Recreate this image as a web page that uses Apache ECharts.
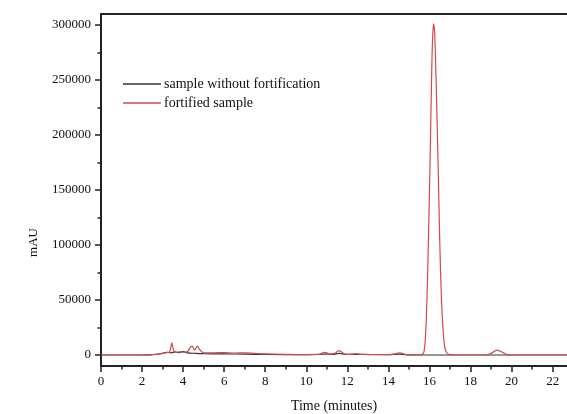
<!DOCTYPE html>
<html>
<head>
<meta charset="utf-8">
<script src="https://cdn.jsdelivr.net/npm/echarts@6/dist/echarts.min.js"></script>
<style>
  html, body { margin: 0; padding: 0; background: #fff; }
  #main { width: 567px; height: 414px; }
</style>
</head>
<body>
<div id="main"></div>
<script>
// retention time (min) / absorbance (mAU)
const seriesNames = ['sample without fortification', 'fortified sample']

const blankData = [
  [0, 0], [1, 0], [2, 0], [2.5, 300], [2.8, 900], [3.0, 1500], [3.2, 2500], [3.4, 2000],
  [3.6, 2800], [3.8, 2200], [4.0, 3200], [4.2, 2000], [4.6, 1500], [5.0, 1200], [6.0, 1000],
  [7.0, 800], [8.0, 500], [10.0, 300], [10.8, 700], [11.0, 1000], [11.3, 600], [11.6, 1500],
  [11.9, 600], [12.5, 500], [14.0, 400], [14.5, 800], [14.9, 200], [15.5, 0], [17, 0],
  [19, 0], [20, 0], [22.7, 0]
]

const fortifiedData = [
  [0, 0], [1, 0], [2, 0], [2.4, 200], [2.8, 800], [3.0, 1500], [3.2, 2200], [3.35, 3000],
  [3.45, 11000], [3.55, 3500], [3.7, 2500], [3.85, 3000], [4.0, 2500], [4.2, 2800],
  [4.35, 7000], [4.45, 8000], [4.55, 4500], [4.7, 8000], [4.8, 5000], [5.0, 2000],
  [5.5, 2000], [6.0, 2200], [6.5, 1800], [7.0, 2000], [7.5, 1500], [8.0, 1000], [9.0, 600],
  [10.0, 400], [10.6, 500], [10.9, 2400], [11.2, 800], [11.4, 1500], [11.6, 4000],
  [11.85, 1000], [12.1, 500], [12.4, 1200], [12.7, 500], [13.5, 300], [14.2, 500],
  [14.55, 2000], [14.9, 300], [15.5, 100], [15.6, 300], [15.7, 1200], [15.75, 5000],
  [15.8, 15000], [15.85, 35000], [15.9, 65000], [15.95, 105000], [16.0, 148000],
  [16.05, 196000], [16.1, 248000], [16.15, 287000], [16.2, 301000], [16.25, 294000],
  [16.3, 266000], [16.35, 230000], [16.4, 190000], [16.45, 148000], [16.5, 105000],
  [16.55, 70000], [16.6, 44000], [16.65, 26000], [16.7, 14000], [16.75, 7000],
  [16.8, 3500], [16.9, 1000], [17.0, 300], [17.2, 0], [18.8, 0], [19.0, 1500],
  [19.3, 4500], [19.6, 2000], [19.8, 300], [20.0, 0], [22.7, 0]
]

const xMajor = [0, 2, 4, 6, 8, 10, 12, 14, 16, 18, 20, 22]
const xMinor = [1, 3, 5, 7, 9, 11, 13, 15, 17, 19, 21]
const yMajor = [0, 50000, 100000, 150000, 200000, 250000, 300000]
const yMinor = [25000, 75000, 125000, 175000, 225000, 275000]

const FONT = '"Liberation Serif", "DejaVu Serif", serif'
const AXIS_COLOR = '#222'

let chart = echarts.init(document.getElementById('main'), null, { renderer: 'canvas' })

let option = {
  backgroundColor: '#fff',
  animation: false,
  textStyle: { fontFamily: FONT },
  grid: { left: 101, top: 14, right: 0, bottom: 48, outerBoundsMode: 'none' },
  graphic: [
    {
      type: 'text',
      left: 27,
      top: 228,
      rotation: Math.PI / 2,
      style: { text: 'mAU', font: '13px ' + FONT, fill: '#111' }
    }
  ],
  legend: {
    data: seriesNames,
    orient: 'vertical',
    left: 118,
    top: 72,
    itemWidth: 38,
    itemHeight: 1.5,
    itemGap: 5,
    icon: 'rect',
    textStyle: { fontFamily: FONT, fontSize: 14, color: '#111', padding: [0, 0, 0, -2] }
  },
  xAxis: [
    {
      type: 'value', min: 0, max: 22.7, position: 'bottom',
      name: 'Time (minutes)', nameLocation: 'middle', nameGap: 33,
      nameTextStyle: { fontFamily: FONT, fontSize: 14, color: '#111' },
      axisLine: { show: true, onZero: false, lineStyle: { color: AXIS_COLOR, width: 2 } },
      axisTick: { show: true, customValues: xMajor, length: 6, lineStyle: { color: AXIS_COLOR, width: 1.5 } },
      axisLabel: { customValues: xMajor, fontFamily: FONT, fontSize: 13, color: '#111', margin: 9 },
      splitLine: { show: false }
    },
    {
      type: 'value', min: 0, max: 22.7, position: 'bottom',
      axisLine: { show: false, onZero: false },
      axisTick: { show: true, customValues: xMinor, length: 3.5, lineStyle: { color: AXIS_COLOR, width: 1.5 } },
      axisLabel: { show: false },
      splitLine: { show: false }
    },
    {
      type: 'value', min: 0, max: 22.7, position: 'top',
      axisLine: { show: true, onZero: false, lineStyle: { color: AXIS_COLOR, width: 2 } },
      axisTick: { show: false },
      axisLabel: { show: false },
      splitLine: { show: false }
    }
  ],
  yAxis: [
    {
      type: 'value', min: -10000, max: 310000,
      axisLine: { show: true, onZero: false, lineStyle: { color: AXIS_COLOR, width: 2 } },
      axisTick: { show: true, customValues: yMajor, length: 6, lineStyle: { color: AXIS_COLOR, width: 1.5 } },
      axisLabel: {
        customValues: yMajor, fontFamily: FONT, fontSize: 13, color: '#111', margin: 10,
        formatter: v => String(v)
      },
      splitLine: { show: false }
    },
    {
      type: 'value', min: -10000, max: 310000, position: 'left',
      axisLine: { show: false, onZero: false },
      axisTick: { show: true, customValues: yMinor, length: 3.5, lineStyle: { color: AXIS_COLOR, width: 1.5 } },
      axisLabel: { show: false },
      splitLine: { show: false }
    }
  ],
  series: [
    {
      name: seriesNames[0],
      type: 'line',
      data: blankData,
      showSymbol: false,
      smooth: 0.3,
      color: '#333333',
      lineStyle: { width: 1.2, color: '#333333' }
    },
    {
      name: seriesNames[1],
      type: 'line',
      data: fortifiedData,
      showSymbol: false,
      smooth: 0.3,
      color: '#d24a4f',
      lineStyle: { width: 1.2, color: '#d24a4f' }
    }
  ]
}

chart.setOption(option)
</script>
</body>
</html>
